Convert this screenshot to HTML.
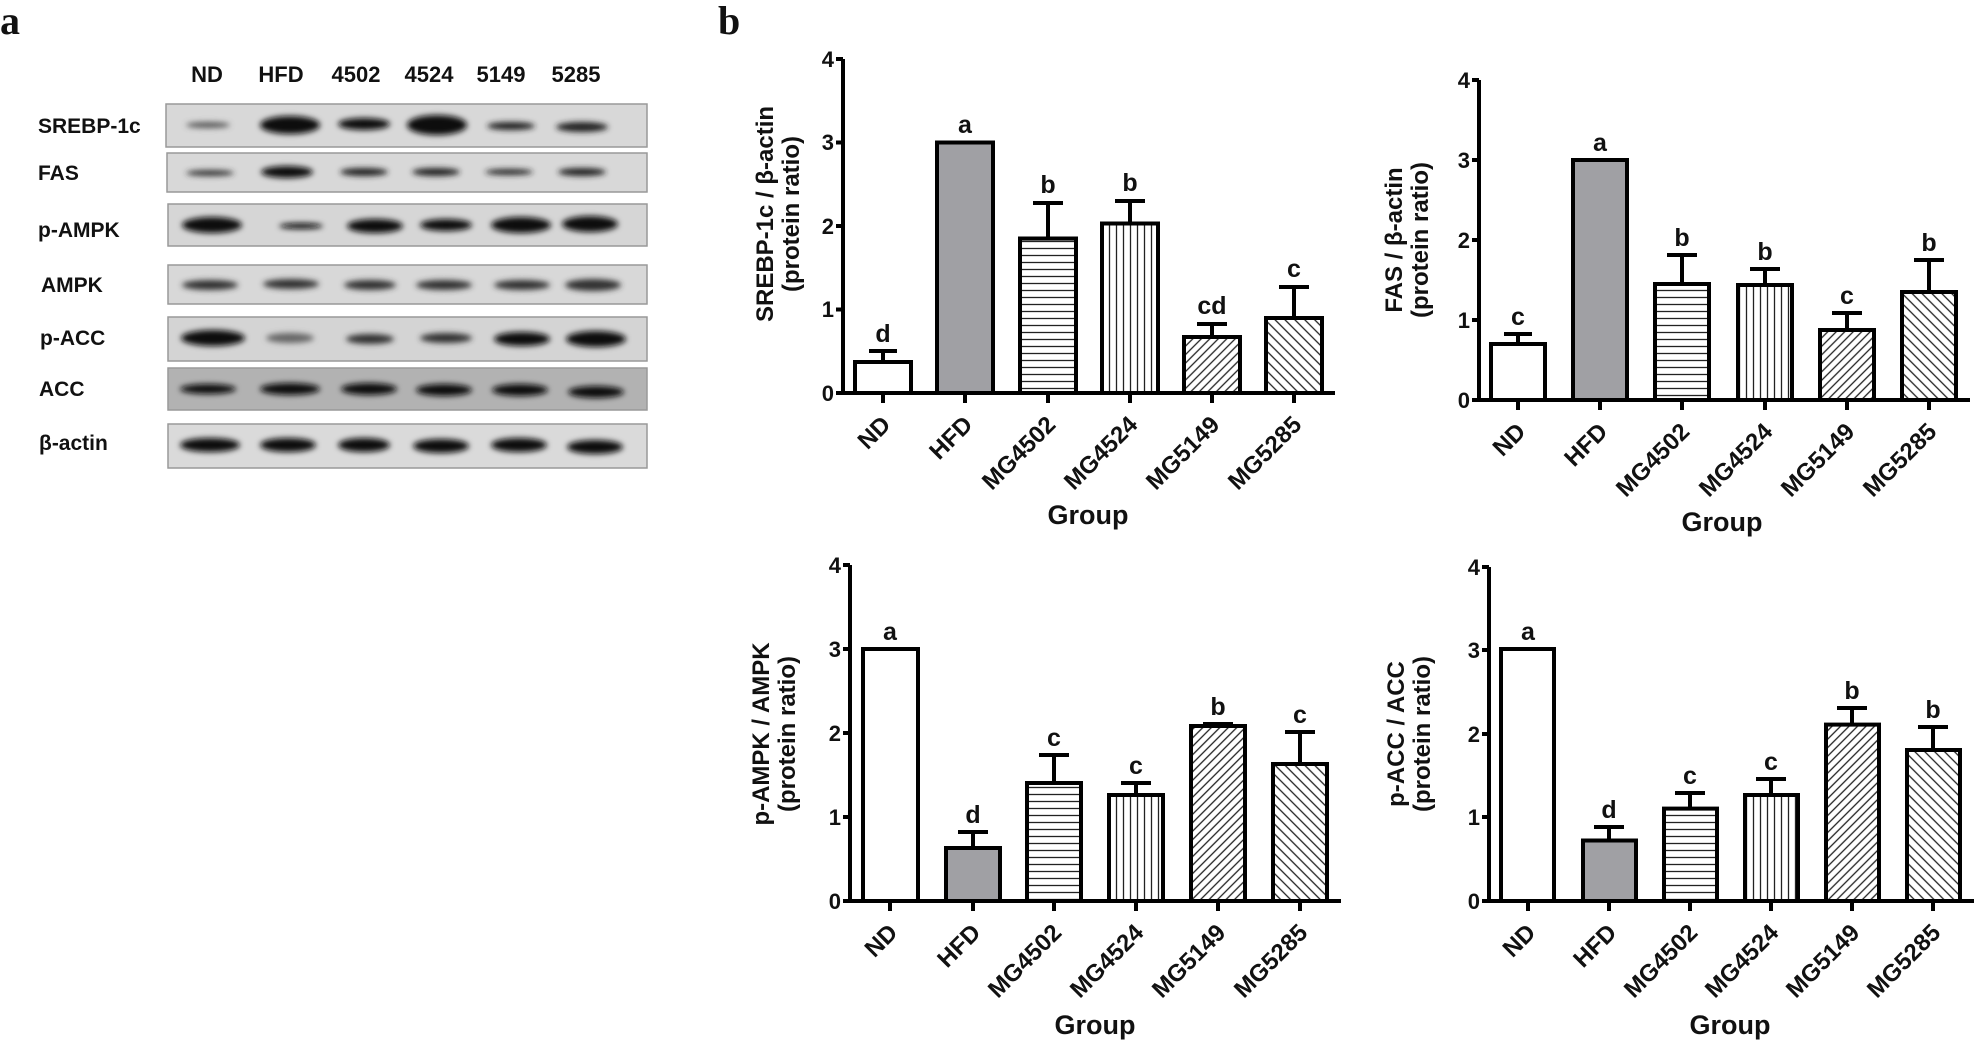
<!DOCTYPE html>
<html><head><meta charset="utf-8"><style>
html,body{margin:0;padding:0;background:#fff}
svg{display:block}
text{font-family:"Liberation Sans",Arial,sans-serif;font-weight:bold;fill:#111}
.tk{font-size:22px}
.lt{font-size:22px}
.le{font-size:25px}
.gr{font-size:27px}
.yl{font-size:24px}
.cat{font-size:24px}
.bl{font-size:21px}
</style></head><body>
<svg width="1976" height="1055" viewBox="0 0 1976 1055" xmlns="http://www.w3.org/2000/svg">
<defs>
<pattern id="hl" width="8" height="7" patternUnits="userSpaceOnUse"><rect width="8" height="7" fill="#fff"/><line x1="0" y1="3.5" x2="8" y2="3.5" stroke="#222" stroke-width="1.3"/></pattern>
<pattern id="vl" width="7" height="8" patternUnits="userSpaceOnUse"><rect width="7" height="8" fill="#fff"/><line x1="3.5" y1="0" x2="3.5" y2="8" stroke="#222" stroke-width="1.3"/></pattern>
<pattern id="d1" width="6" height="6" patternUnits="userSpaceOnUse" patternTransform="rotate(45)"><rect width="6" height="6" fill="#fff"/><line x1="3" y1="0" x2="3" y2="6" stroke="#222" stroke-width="1.3"/></pattern>
<pattern id="d2" width="7" height="7" patternUnits="userSpaceOnUse" patternTransform="rotate(-45)"><rect width="7" height="7" fill="#fff"/><line x1="3.5" y1="0" x2="3.5" y2="7" stroke="#222" stroke-width="1.3"/></pattern>
<filter id="bl" x="-30%" y="-100%" width="160%" height="300%"><feGaussianBlur stdDeviation="3"/></filter>
</defs>

<!-- Panel a -->
<text x="0" y="34" style="font-family:'Liberation Serif',serif;font-size:40px;font-weight:bold">a</text>
<g class="lt" text-anchor="middle">
<text x="207" y="82">ND</text><text x="281" y="82">HFD</text><text x="356" y="82">4502</text><text x="429" y="82">4524</text><text x="501" y="82">5149</text><text x="576" y="82">5285</text>
</g>
<g class="bl">
<text x="38" y="133">SREBP-1c</text>
<text x="38" y="180">FAS</text>
<text x="38" y="237">p-AMPK</text>
<text x="41" y="292">AMPK</text>
<text x="40" y="345">p-ACC</text>
<text x="39" y="396">ACC</text>
<text x="39" y="450">β-actin</text>
</g>
<g stroke="#999" stroke-width="1.5">
<rect x="166" y="104" width="481" height="43" fill="#d8d8d8"/>
<rect x="167" y="153" width="480" height="39" fill="#d8d8d8"/>
<rect x="168" y="204" width="479" height="42" fill="#d6d6d6"/>
<rect x="168" y="265" width="479" height="39" fill="#d8d8d8"/>
<rect x="168" y="317" width="479" height="44" fill="#d4d4d4"/>
<rect x="168" y="368" width="479" height="42" fill="#b2b2b2"/>
<rect x="168" y="424" width="479" height="44" fill="#dadada"/>
</g>
<g filter="url(#bl)" fill="#111">
<ellipse cx="208" cy="125" rx="22" ry="3" fill="#555"/>
<ellipse cx="290" cy="125" rx="30" ry="9"/>
<ellipse cx="364" cy="124" rx="26" ry="6"/>
<ellipse cx="437" cy="125" rx="30" ry="10"/>
<ellipse cx="511" cy="126" rx="24" ry="4" fill="#222"/>
<ellipse cx="582" cy="127" rx="26" ry="5" fill="#222"/>
<ellipse cx="210" cy="173" rx="24" ry="3" fill="#333"/>
<ellipse cx="287" cy="172" rx="26" ry="6"/>
<ellipse cx="364" cy="172" rx="24" ry="4" fill="#222"/>
<ellipse cx="436" cy="172" rx="24" ry="4" fill="#222"/>
<ellipse cx="509" cy="172" rx="24" ry="3" fill="#222"/>
<ellipse cx="582" cy="172" rx="24" ry="4" fill="#222"/>
<ellipse cx="212" cy="225" rx="30" ry="8"/>
<ellipse cx="301" cy="226" rx="22" ry="3"/>
<ellipse cx="375" cy="226" rx="28" ry="7"/>
<ellipse cx="446" cy="225" rx="26" ry="6"/>
<ellipse cx="521" cy="225" rx="30" ry="8"/>
<ellipse cx="590" cy="224" rx="28" ry="8"/>
<ellipse cx="210" cy="285" rx="28" ry="5" fill="#333"/>
<ellipse cx="291" cy="284" rx="28" ry="5" fill="#333"/>
<ellipse cx="370" cy="285" rx="26" ry="5" fill="#333"/>
<ellipse cx="444" cy="285" rx="28" ry="5" fill="#333"/>
<ellipse cx="522" cy="285" rx="28" ry="5" fill="#333"/>
<ellipse cx="593" cy="285" rx="28" ry="6" fill="#333"/>
<ellipse cx="213" cy="338" rx="32" ry="8"/>
<ellipse cx="290" cy="338" rx="24" ry="5" fill="#666"/>
<ellipse cx="370" cy="339" rx="24" ry="5" fill="#333"/>
<ellipse cx="446" cy="338" rx="26" ry="5" fill="#333"/>
<ellipse cx="522" cy="339" rx="28" ry="7"/>
<ellipse cx="596" cy="339" rx="30" ry="8"/>
<ellipse cx="208" cy="389" rx="28" ry="5"/>
<ellipse cx="290" cy="389" rx="30" ry="6"/>
<ellipse cx="369" cy="389" rx="28" ry="6"/>
<ellipse cx="444" cy="390" rx="28" ry="6"/>
<ellipse cx="520" cy="390" rx="28" ry="6"/>
<ellipse cx="596" cy="392" rx="28" ry="6"/>
<ellipse cx="210" cy="445" rx="30" ry="7"/>
<ellipse cx="288" cy="445" rx="28" ry="7"/>
<ellipse cx="364" cy="445" rx="26" ry="7"/>
<ellipse cx="441" cy="446" rx="28" ry="7"/>
<ellipse cx="519" cy="445" rx="28" ry="7"/>
<ellipse cx="595" cy="447" rx="28" ry="7"/>
</g>

<text x="718" y="34" style="font-family:'Liberation Serif',serif;font-size:40px;font-weight:bold">b</text>

<!-- Chart 1 -->
<g stroke="#000" stroke-width="4" fill="none">
<rect x="855" y="362" width="56" height="31" fill="#fff"/>
<rect x="937" y="142.5" width="56" height="250.5" fill="#a0a0a4"/>
<rect x="1020" y="238.5" width="56" height="154.5" fill="url(#hl)"/>
<rect x="1102" y="223.5" width="56" height="169.5" fill="url(#vl)"/>
<rect x="1184" y="337" width="56" height="56" fill="url(#d1)"/>
<rect x="1266" y="318" width="56" height="75" fill="url(#d2)"/>
<path d="M883 362V351M869 351H897M1048 238V203M1033 203H1063M1130 223V201M1115 201H1145M1212 337V324M1197 324H1227M1294 318V287M1279 287H1309"/>
<path d="M843 59V393H1335M836 59H843M836 142.5H843M836 226H843M836 309.5H843M836 393H843M883 393V403M965 393V403M1048 393V403M1130 393V403M1212 393V403M1294 393V403"/>
</g>
<g class="tk" text-anchor="end"><text x="834" y="67">4</text><text x="834" y="150">3</text><text x="834" y="234">2</text><text x="834" y="317">1</text><text x="834" y="401">0</text></g>
<g class="le" text-anchor="middle"><text x="883" y="342">d</text><text x="965" y="133">a</text><text x="1048" y="193">b</text><text x="1130" y="191">b</text><text x="1212" y="314">cd</text><text x="1294" y="277">c</text></g>
<g class="cat" text-anchor="end">
<text transform="translate(892,426) rotate(-45)">ND</text><text transform="translate(974,426) rotate(-45)">HFD</text><text transform="translate(1057,426) rotate(-45)">MG4502</text><text transform="translate(1139,426) rotate(-45)">MG4524</text><text transform="translate(1221,426) rotate(-45)">MG5149</text><text transform="translate(1303,426) rotate(-45)">MG5285</text>
</g>
<text class="gr" x="1088" y="524" text-anchor="middle">Group</text>
<g class="yl" text-anchor="middle"><text transform="translate(773,214) rotate(-90)">SREBP-1c / β-actin</text><text transform="translate(799,214) rotate(-90)">(protein ratio)</text></g>

<!-- Chart 2 -->
<g stroke="#000" stroke-width="4" fill="none">
<rect x="1491" y="344" width="54" height="56" fill="#fff"/>
<rect x="1573" y="160" width="54" height="240" fill="#a0a0a4"/>
<rect x="1655" y="284" width="54" height="116" fill="url(#hl)"/>
<rect x="1738" y="285" width="54" height="115" fill="url(#vl)"/>
<rect x="1820" y="330" width="54" height="70" fill="url(#d1)"/>
<rect x="1902" y="292" width="54" height="108" fill="url(#d2)"/>
<path d="M1518 344V334M1504 334H1532M1682 284V255M1667 255H1697M1765 285V269M1750 269H1780M1847 330V313M1832 313H1862M1929 292V260M1914 260H1944"/>
<path d="M1479 80V400H1970M1472 80H1479M1472 160H1479M1472 240H1479M1472 320H1479M1472 400H1479M1518 400V410M1600 400V410M1682 400V410M1765 400V410M1847 400V410M1929 400V410"/>
</g>
<g class="tk" text-anchor="end"><text x="1470" y="88">4</text><text x="1470" y="168">3</text><text x="1470" y="248">2</text><text x="1470" y="328">1</text><text x="1470" y="408">0</text></g>
<g class="le" text-anchor="middle"><text x="1518" y="325">c</text><text x="1600" y="151">a</text><text x="1682" y="246">b</text><text x="1765" y="260">b</text><text x="1847" y="304">c</text><text x="1929" y="251">b</text></g>
<g class="cat" text-anchor="end">
<text transform="translate(1527,433) rotate(-45)">ND</text><text transform="translate(1609,433) rotate(-45)">HFD</text><text transform="translate(1691,433) rotate(-45)">MG4502</text><text transform="translate(1774,433) rotate(-45)">MG4524</text><text transform="translate(1856,433) rotate(-45)">MG5149</text><text transform="translate(1938,433) rotate(-45)">MG5285</text>
</g>
<text class="gr" x="1722" y="531" text-anchor="middle">Group</text>
<g class="yl" text-anchor="middle"><text transform="translate(1402,240) rotate(-90)">FAS / β-actin</text><text transform="translate(1428,240) rotate(-90)">(protein ratio)</text></g>

<!-- Chart 3 -->
<g stroke="#000" stroke-width="4" fill="none">
<rect x="863" y="649" width="55" height="252" fill="#fff"/>
<rect x="946" y="848" width="54" height="53" fill="#a0a0a4"/>
<rect x="1027" y="783" width="54" height="118" fill="url(#hl)"/>
<rect x="1109" y="795" width="54" height="106" fill="url(#vl)"/>
<rect x="1191" y="726" width="54" height="175" fill="url(#d1)"/>
<rect x="1273" y="764" width="54" height="137" fill="url(#d2)"/>
<path d="M973 848V832M958 832H988M1054 783V755M1039 755H1069M1136 795V783M1121 783H1151M1218 726V724M1203 724H1233M1300 764V732M1285 732H1315"/>
<path d="M850 565V901H1341M843 565H850M843 649H850M843 733H850M843 817H850M843 901H850M890 901V911M973 901V911M1054 901V911M1136 901V911M1218 901V911M1300 901V911"/>
</g>
<g class="tk" text-anchor="end"><text x="841" y="573">4</text><text x="841" y="657">3</text><text x="841" y="741">2</text><text x="841" y="825">1</text><text x="841" y="909">0</text></g>
<g class="le" text-anchor="middle"><text x="890" y="640">a</text><text x="973" y="823">d</text><text x="1054" y="746">c</text><text x="1136" y="774">c</text><text x="1218" y="715">b</text><text x="1300" y="723">c</text></g>
<g class="cat" text-anchor="end">
<text transform="translate(899,934) rotate(-45)">ND</text><text transform="translate(982,934) rotate(-45)">HFD</text><text transform="translate(1063,934) rotate(-45)">MG4502</text><text transform="translate(1145,934) rotate(-45)">MG4524</text><text transform="translate(1227,934) rotate(-45)">MG5149</text><text transform="translate(1309,934) rotate(-45)">MG5285</text>
</g>
<text class="gr" x="1095" y="1034" text-anchor="middle">Group</text>
<g class="yl" text-anchor="middle"><text transform="translate(769,734) rotate(-90)">p-AMPK / AMPK</text><text transform="translate(795,734) rotate(-90)">(protein ratio)</text></g>

<!-- Chart 4 -->
<g stroke="#000" stroke-width="4" fill="none">
<rect x="1501" y="649" width="53" height="252" fill="#fff"/>
<rect x="1583" y="840.5" width="53" height="60.5" fill="#a0a0a4"/>
<rect x="1664" y="808.6" width="53" height="92.4" fill="url(#hl)"/>
<rect x="1745" y="795" width="53" height="106" fill="url(#vl)"/>
<rect x="1826" y="724.6" width="53" height="176.4" fill="url(#d1)"/>
<rect x="1907" y="750" width="53" height="151" fill="url(#d2)"/>
<path d="M1609 840V827M1594 827H1624M1690 808V793M1675 793H1705M1771 795V779M1756 779H1786M1852 724V708M1837 708H1867M1933 750V727M1918 727H1948"/>
<path d="M1489 567V901H1974M1482 567H1489M1482 650H1489M1482 734H1489M1482 817H1489M1482 901H1489M1528 901V911M1609 901V911M1690 901V911M1771 901V911M1852 901V911M1933 901V911"/>
</g>
<g class="tk" text-anchor="end"><text x="1480" y="575">4</text><text x="1480" y="658">3</text><text x="1480" y="742">2</text><text x="1480" y="825">1</text><text x="1480" y="909">0</text></g>
<g class="le" text-anchor="middle"><text x="1528" y="640">a</text><text x="1609" y="818">d</text><text x="1690" y="784">c</text><text x="1771" y="770">c</text><text x="1852" y="699">b</text><text x="1933" y="718">b</text></g>
<g class="cat" text-anchor="end">
<text transform="translate(1537,934) rotate(-45)">ND</text><text transform="translate(1618,934) rotate(-45)">HFD</text><text transform="translate(1699,934) rotate(-45)">MG4502</text><text transform="translate(1780,934) rotate(-45)">MG4524</text><text transform="translate(1861,934) rotate(-45)">MG5149</text><text transform="translate(1942,934) rotate(-45)">MG5285</text>
</g>
<text class="gr" x="1730" y="1034" text-anchor="middle">Group</text>
<g class="yl" text-anchor="middle"><text transform="translate(1404,734) rotate(-90)">p-ACC / ACC</text><text transform="translate(1430,734) rotate(-90)">(protein ratio)</text></g>
</svg>
</body></html>
